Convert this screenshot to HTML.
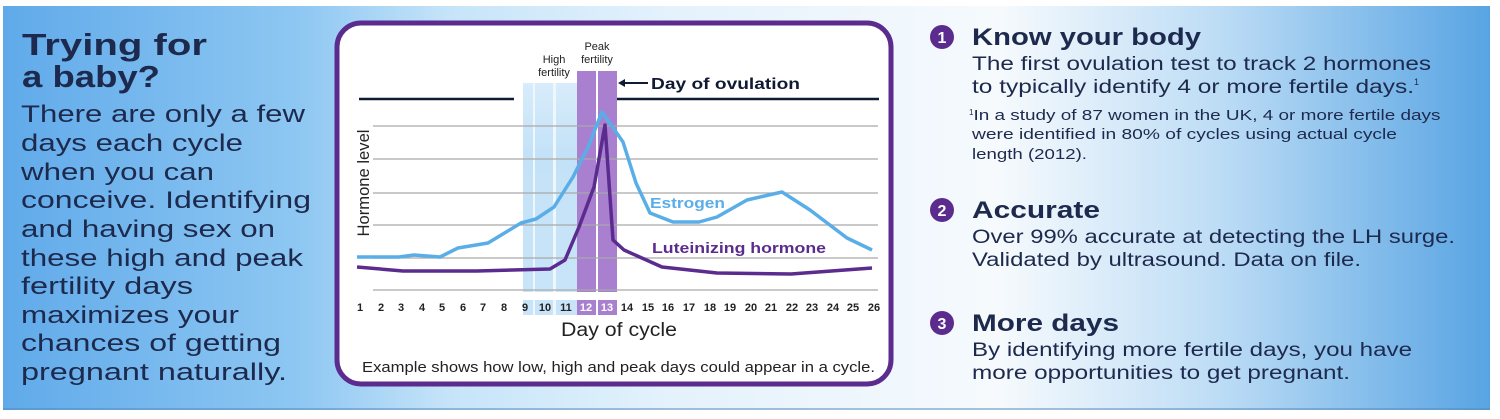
<!DOCTYPE html>
<html><head><meta charset="utf-8"><style>
html,body{margin:0;padding:0;background:#fff;}
svg{display:block;}
text{font-family:"Liberation Sans","DejaVu Sans",sans-serif;}
</style></head><body>
<svg width="1500" height="419" viewBox="0 0 1500 419" xmlns="http://www.w3.org/2000/svg">
<defs>
<linearGradient id="bg" x1="0" x2="1" y1="0" y2="0">
<stop offset="0" stop-color="#60aaea"/>
<stop offset="0.2" stop-color="#8ec7f2"/>
<stop offset="0.3" stop-color="#c6e4f9"/>
<stop offset="0.45" stop-color="#e4f2fc"/>
<stop offset="0.67" stop-color="#f6fafd"/>
<stop offset="0.82" stop-color="#bcdcf5"/>
<stop offset="1" stop-color="#58a4e3"/>
</linearGradient>
<linearGradient id="lb" x1="0" x2="0" y1="0" y2="1">
<stop offset="0" stop-color="#d8ecfa"/><stop offset="0.3" stop-color="#c4e2f7"/><stop offset="1" stop-color="#c9e4f8"/>
</linearGradient>
</defs>
<rect x="3" y="6" width="1487" height="404" fill="url(#bg)"/>
<rect x="3" y="408" width="1487" height="2" fill="#5588bb" opacity="0.5"/>

<!-- Left text -->
<g fill="#1d2a4d" lengthAdjust="spacingAndGlyphs">
<text x="22" y="55" font-size="31" font-weight="bold" textLength="185" lengthAdjust="spacingAndGlyphs">Trying for</text>
<text x="22" y="87" font-size="31" font-weight="bold" textLength="138" lengthAdjust="spacingAndGlyphs">a baby?</text>
<g font-size="24.5">
<text x="21" y="122" textLength="284" lengthAdjust="spacingAndGlyphs">There are only a few</text>
<text x="21" y="151" textLength="222" lengthAdjust="spacingAndGlyphs">days each cycle</text>
<text x="21" y="180" textLength="193" lengthAdjust="spacingAndGlyphs">when you can</text>
<text x="21" y="208" textLength="290" lengthAdjust="spacingAndGlyphs">conceive. Identifying</text>
<text x="21" y="237" textLength="254" lengthAdjust="spacingAndGlyphs">and having sex on</text>
<text x="21" y="266" textLength="282" lengthAdjust="spacingAndGlyphs">these high and peak</text>
<text x="21" y="294" textLength="172" lengthAdjust="spacingAndGlyphs">fertility days</text>
<text x="21" y="323" textLength="218" lengthAdjust="spacingAndGlyphs">maximizes your</text>
<text x="21" y="351" textLength="260" lengthAdjust="spacingAndGlyphs">chances of getting</text>
<text x="21" y="380" textLength="266" lengthAdjust="spacingAndGlyphs">pregnant naturally.</text>
</g></g>

<!-- Chart card -->
<rect x="337" y="23" width="554" height="361" rx="24" fill="#fff" stroke="#5b2b8e" stroke-width="5"/>
<rect x="523" y="83" width="54" height="232" fill="url(#lb)"/>
<rect x="533" y="83" width="2" height="232" fill="#eef7fd"/>
<rect x="553" y="83" width="3" height="232" fill="#eef7fd"/>
<rect x="577" y="71" width="19" height="244" fill="#a97fcf"/>
<rect x="598" y="71" width="19" height="244" fill="#a97fcf"/>
<rect x="523" y="292" width="94" height="8" fill="#fff"/>
<g stroke="#a9a9a9" stroke-width="1.3">
<line x1="373" x2="878" y1="126" y2="126"/>
<line x1="373" x2="878" y1="159" y2="159"/>
<line x1="373" x2="878" y1="193" y2="193"/>
<line x1="373" x2="878" y1="225" y2="225"/>
<line x1="373" x2="878" y1="258" y2="258"/>
<line x1="373" x2="878" y1="290" y2="290"/>
</g>
<line x1="359" x2="514" y1="99" y2="99" stroke="#111a33" stroke-width="2.5"/>
<line x1="617" x2="879" y1="99" y2="99" stroke="#111a33" stroke-width="2.5"/>
<polyline fill="none" stroke="#5aaee8" stroke-width="3.5" stroke-linejoin="round" points="357,257 399,257 414,255 440,257 458,248 488,243 521,223 536,219 554,207 573,177 588,147 602,112 623,142 636,183 650,213 673,222 699,222 717,217 747,200 782,192 810,210 847,238 872,250"/>
<polyline fill="none" stroke="#5b2b8e" stroke-width="3.5" stroke-linejoin="round" points="357,267 403,271 477,271 550,269 565,260 579,227 594,187 605,125 613,240 624,250 662,267 717,273 791,274 872,268"/>
<text x="554" y="63" font-size="11" text-anchor="middle" fill="#222">High</text>
<text x="554" y="76" font-size="11" text-anchor="middle" fill="#222">fertility</text>
<text x="597" y="50" font-size="11" text-anchor="middle" fill="#222">Peak</text>
<text x="597" y="63" font-size="11" text-anchor="middle" fill="#222">fertility</text>
<line x1="622" x2="648" y1="83" y2="83" stroke="#111a33" stroke-width="2"/>
<polygon points="618,83 625,79 625,87" fill="#111a33"/>
<text x="651" y="89" font-size="16" font-weight="bold" fill="#111a33" textLength="149" lengthAdjust="spacingAndGlyphs">Day of ovulation</text>
<text x="650" y="208" font-size="15" font-weight="bold" fill="#5aaee8" textLength="75" lengthAdjust="spacingAndGlyphs">Estrogen</text>
<text x="652" y="253" font-size="15" font-weight="bold" fill="#5b2b8e" textLength="174" lengthAdjust="spacingAndGlyphs">Luteinizing hormone</text>
<text transform="translate(369,183) rotate(-90)" font-size="17" text-anchor="middle" fill="#222" textLength="107" lengthAdjust="spacingAndGlyphs">Hormone level</text>
<g font-size="11" font-weight="bold" fill="#222" text-anchor="middle">
<text x="360" y="311">1</text><text x="381" y="311">2</text><text x="401" y="311">3</text><text x="422" y="311">4</text><text x="442" y="311">5</text><text x="463" y="311">6</text><text x="483" y="311">7</text><text x="504" y="311">8</text><text x="525" y="311">9</text><text x="545" y="311">10</text><text x="566" y="311">11</text><text x="586" y="311" fill="#fff">12</text><text x="607" y="311" fill="#fff">13</text><text x="627" y="311">14</text><text x="648" y="311">15</text><text x="668" y="311">16</text><text x="689" y="311">17</text><text x="710" y="311">18</text><text x="730" y="311">19</text><text x="751" y="311">20</text><text x="771" y="311">21</text><text x="792" y="311">22</text><text x="812" y="311">23</text><text x="833" y="311">24</text><text x="853" y="311">25</text><text x="874" y="311">26</text>
</g>
<text x="561" y="336" font-size="19" fill="#222" textLength="116" lengthAdjust="spacingAndGlyphs">Day of cycle</text>
<text x="362" y="372" font-size="15" fill="#222" textLength="513" lengthAdjust="spacingAndGlyphs">Example shows how low, high and peak days could appear in a cycle.</text>

<!-- Right text -->
<g fill="#5b2b8e">
<circle cx="942" cy="37" r="12"/><circle cx="942" cy="210" r="12"/><circle cx="942" cy="323" r="12"/>
</g>
<g fill="#fff" font-size="16" font-weight="bold" text-anchor="middle">
<text x="942" y="43">1</text><text x="942" y="216">2</text><text x="942" y="329">3</text>
</g>
<g fill="#1d2a4d">
<text x="972" y="45" font-size="24" font-weight="bold" textLength="229" lengthAdjust="spacingAndGlyphs">Know your body</text>
<text x="972" y="70" font-size="19" textLength="459" lengthAdjust="spacingAndGlyphs">The first ovulation test to track 2 hormones</text>
<text x="972" y="93" font-size="19"><tspan textLength="442" lengthAdjust="spacingAndGlyphs">to typically identify 4 or more fertile days.</tspan><tspan font-size="9" dy="-8">1</tspan></text>
<text x="969" y="120" font-size="15"><tspan font-size="8" dy="-5">1</tspan><tspan dy="5" textLength="467" lengthAdjust="spacingAndGlyphs">In a study of 87 women in the UK, 4 or more fertile days</tspan></text>
<text x="972" y="139" font-size="15" textLength="425" lengthAdjust="spacingAndGlyphs">were identified in 80% of cycles using actual cycle</text>
<text x="972" y="159" font-size="15" textLength="115" lengthAdjust="spacingAndGlyphs">length (2012).</text>
<text x="972" y="218" font-size="24" font-weight="bold" textLength="128" lengthAdjust="spacingAndGlyphs">Accurate</text>
<text x="972" y="243" font-size="19" textLength="483" lengthAdjust="spacingAndGlyphs">Over 99% accurate at detecting the LH surge.</text>
<text x="972" y="266" font-size="19" textLength="389" lengthAdjust="spacingAndGlyphs">Validated by ultrasound. Data on file.</text>
<text x="972" y="331" font-size="24" font-weight="bold" textLength="147" lengthAdjust="spacingAndGlyphs">More days</text>
<text x="972" y="356" font-size="19" textLength="440" lengthAdjust="spacingAndGlyphs">By identifying more fertile days, you have</text>
<text x="972" y="379" font-size="19" textLength="378" lengthAdjust="spacingAndGlyphs">more opportunities to get pregnant.</text>
</g>
</svg>
</body></html>
